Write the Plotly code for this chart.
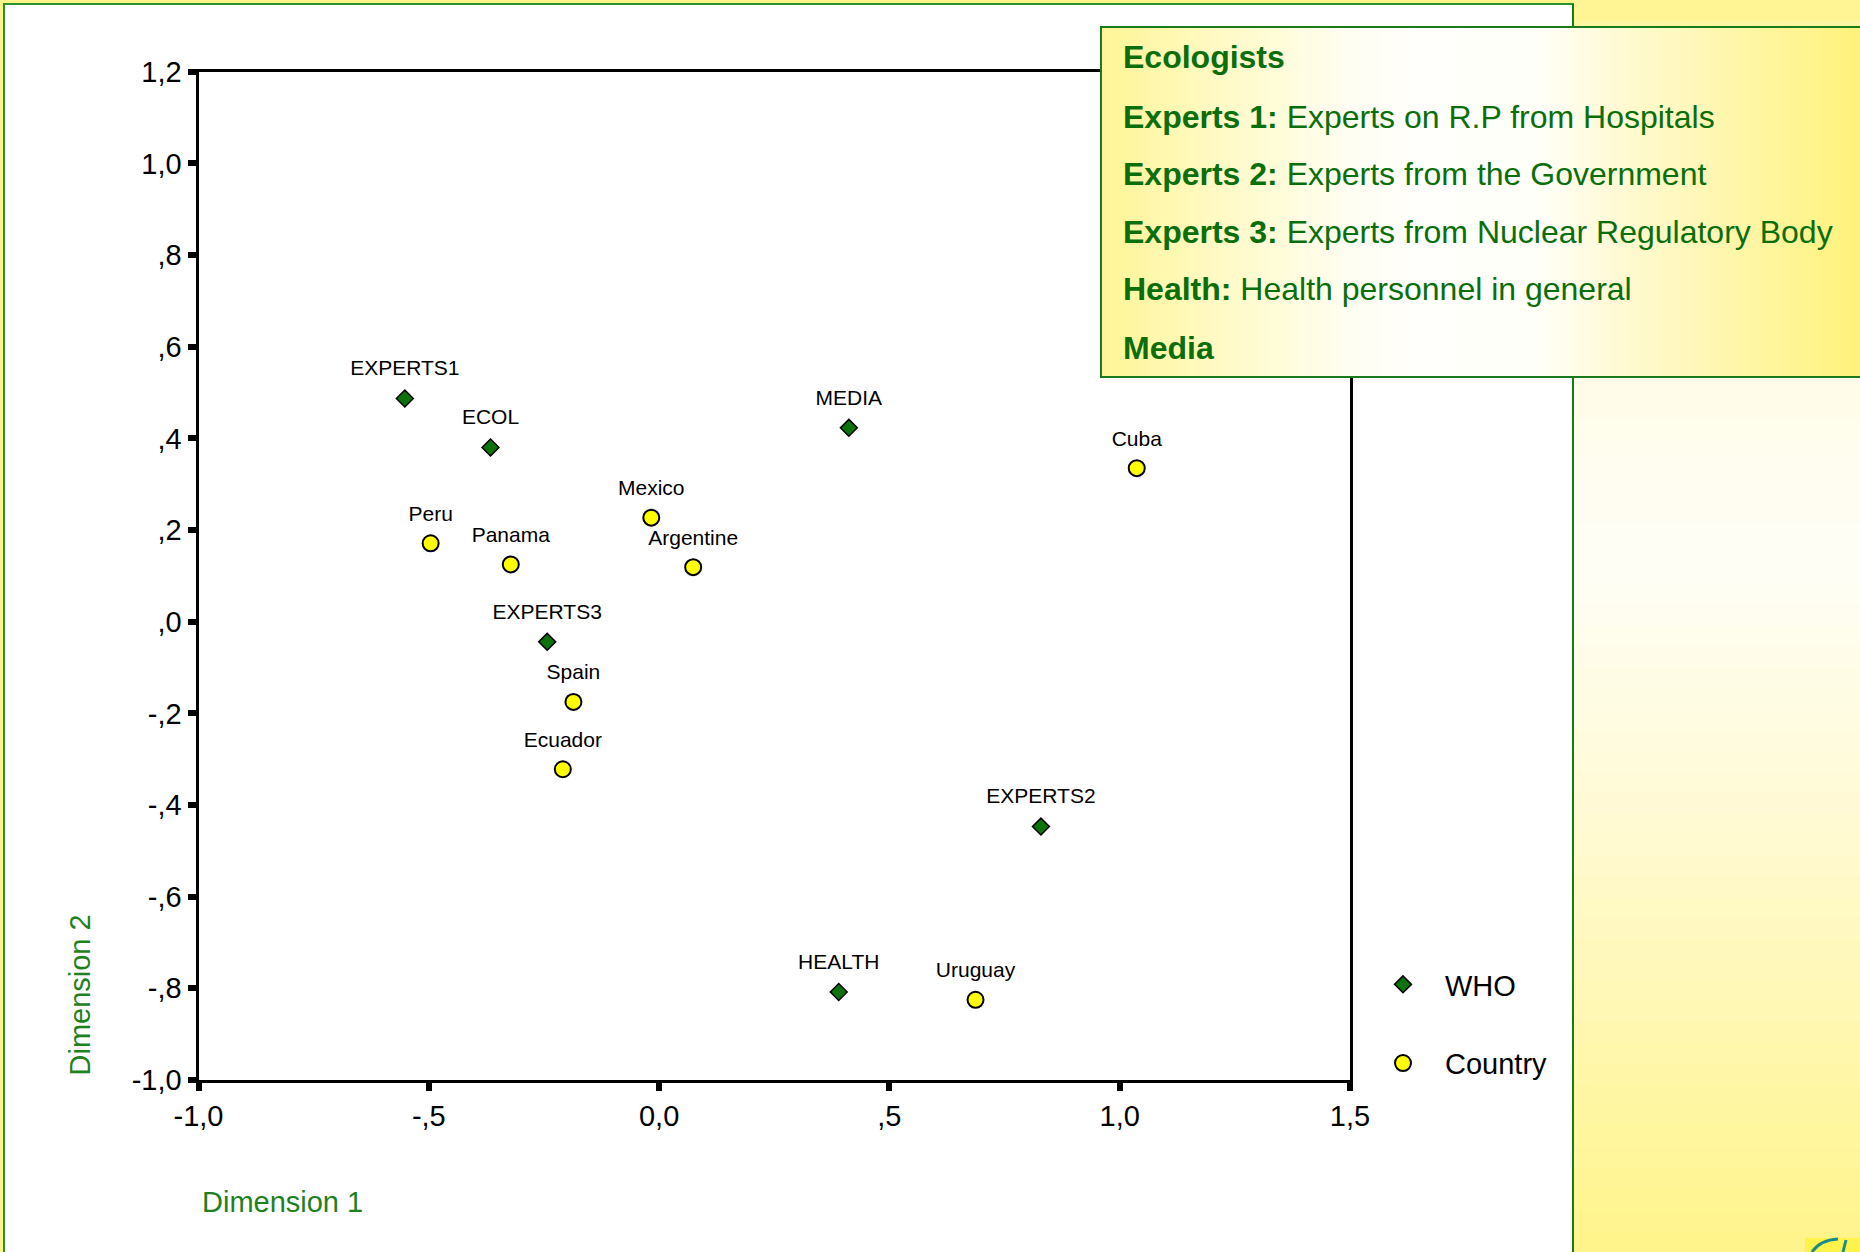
import plotly.graph_objects as go

W, H = 1860, 1252

# ---------------- data ----------------
who_labels = ["EXPERTS1", "ECOL", "MEDIA", "EXPERTS3", "EXPERTS2", "HEALTH"]
who_x = [-0.552, -0.366, 0.412, -0.243, 0.829, 0.390]
who_y = [0.487, 0.380, 0.423, -0.044, -0.447, -0.808]

country_labels = ["Cuba", "Mexico", "Argentine", "Peru", "Panama", "Spain", "Ecuador", "Uruguay"]
country_x = [1.037, -0.017, 0.074, -0.496, -0.322, -0.186, -0.209, 0.687]
country_y = [0.335, 0.227, 0.119, 0.171, 0.125, -0.175, -0.322, -0.825]

x_tickvals = [-1.0, -0.5, 0.0, 0.5, 1.0, 1.5]
x_ticktext = ["-1,0", "-,5", "0,0", ",5", "1,0", "1,5"]
y_tickvals = [1.2, 1.0, 0.8, 0.6, 0.4, 0.2, 0.0, -0.2, -0.4, -0.6, -0.8, -1.0]
y_ticktext = ["1,2", "1,0", ",8", ",6", ",4", ",2", ",0", "-,2", "-,4", "-,6", "-,8", "-1,0"]

box_terms = ["Ecologists", "Experts 1:", "Experts 2:", "Experts 3:", "Health:", "Media"]
box_defs = ["", "Experts on R.P from Hospitals", "Experts from the Government",
            "Experts from Nuclear Regulatory Body", "Health personnel in general", ""]

FONT = "Liberation Sans, Arial, Helvetica, sans-serif"
GREEN_TXT = "#0a6e0a"
AXIS_GREEN = "#1f801f"
YELLOW = (255, 244, 140)


def px(X):
    return X / W


def py(Y):
    return 1 - Y / H


def lerp_color(stops, t):
    for i in range(len(stops) - 1):
        t0, c0 = stops[i]
        t1, c1 = stops[i + 1]
        if t <= t1:
            f = (t - t0) / (t1 - t0) if t1 > t0 else 0
            return tuple(round(c0[k] + (c1[k] - c0[k]) * f) for k in range(3))
    return stops[-1][1]


def gradient(x0, y0, x1, y1, stops, n, direction, layer):
    out = []
    for i in range(n):
        t = (i + 0.5) / n
        c = lerp_color(stops, t)
        col = "rgb(%d,%d,%d)" % c
        if direction == "h":
            a = x0 + (x1 - x0) * i / n
            b = min(x0 + (x1 - x0) * (i + 1) / n + 1.5, x1)
            xa, xb, ya, yb = a, b, y0, y1
        else:
            a = y0 + (y1 - y0) * i / n
            b = min(y0 + (y1 - y0) * (i + 1) / n + 1.5, y1)
            xa, xb, ya, yb = x0, x1, a, b
        out.append(dict(type="rect", xref="paper", yref="paper",
                        x0=px(xa), x1=px(xb), y0=py(ya), y1=py(yb),
                        fillcolor=col, line=dict(width=0), layer=layer))
    return out


shapes = []
# white panel
shapes.append(dict(type="rect", xref="paper", yref="paper",
                   x0=px(4), x1=px(1573), y0=py(4), y1=py(H + 5),
                   fillcolor="white", line=dict(color="#2a932a", width=2), layer="below"))
# right strip gradient
shapes += gradient(1574, 0, W, H,
                   [(0.0, YELLOW), (0.02, (255, 246, 160)), (0.30, (255, 252, 232)),
                    (0.45, (255, 254, 246)), (0.65, (255, 250, 212)), (1.0, (255, 244, 138))],
                   60, "v", "below")
shapes.append(dict(type="line", xref="paper", yref="paper",
                   x0=px(1573), x1=px(1573), y0=py(4), y1=py(H + 5),
                   line=dict(color="#137f13", width=2), layer="below"))
# logo fragment bottom-right
shapes.append(dict(type="rect", xref="paper", yref="paper",
                   x0=px(1805), x1=px(W + 2), y0=py(1238), y1=py(H + 2),
                   fillcolor="#fff24a", line=dict(width=0), layer="below"))
shapes.append(dict(type="path", xref="paper", yref="paper",
                   path="M %f %f Q %f %f %f %f" % (px(1812), py(1252), px(1820), py(1240), px(1838), py(1239)),
                   line=dict(color="#1a8c8c", width=3), layer="below"))
shapes.append(dict(type="line", xref="paper", yref="paper",
                   x0=px(1846), x1=px(1843), y0=py(1240), y1=py(1252),
                   line=dict(color="#1a8c8c", width=3), layer="below"))

# legend box (definitions)
shapes += gradient(1100, 27, W, 377,
                   [(0.0, (255, 245, 150)), (0.17, (255, 250, 200)), (0.32, (255, 254, 240)),
                    (0.42, (255, 255, 252)), (0.58, (255, 255, 248)), (0.68, (255, 250, 212)),
                    (0.80, (255, 247, 180)), (1.0, (255, 242, 122))],
                   76, "h", "above")
shapes.append(dict(type="rect", xref="paper", yref="paper",
                   x0=px(1101), x1=px(W + 3), y0=py(27), y1=py(377),
                   fillcolor="rgba(0,0,0,0)", line=dict(color="#1b7a1b", width=2), layer="above"))

annotations = []
line_y = [57, 117, 174, 232, 289, 348]
for term, d, yy in zip(box_terms, box_defs, line_y):
    txt = "<b>%s</b>" % term + ((" " + d) if d else "")
    annotations.append(dict(xref="paper", yref="paper", x=px(1121), y=py(yy),
                            xanchor="left", yanchor="middle", showarrow=False, text=txt,
                            font=dict(family=FONT, size=32, color=GREEN_TXT)))

# axis titles
annotations.append(dict(xref="paper", yref="paper", x=px(200), y=py(1202),
                        xanchor="left", yanchor="middle", showarrow=False, text="Dimension 1",
                        font=dict(family=FONT, size=29, color=AXIS_GREEN)))
annotations.append(dict(xref="paper", yref="paper", x=px(79), y=py(1078),
                        xanchor="center", yanchor="bottom", showarrow=False, text="Dimension 2",
                        textangle=-90, font=dict(family=FONT, size=29, color=AXIS_GREEN)))

fig = go.Figure()
# markers (with legend)
fig.add_trace(go.Scatter(
    x=who_x, y=who_y, mode="markers", name="WHO", legendgroup="who",
    marker=dict(symbol="diamond", size=13, color="#0c730c", line=dict(color="black", width=1.5)),
    cliponaxis=False, hoverinfo="skip"))
fig.add_trace(go.Scatter(
    x=country_x, y=country_y, mode="markers", name="Country", legendgroup="country",
    marker=dict(symbol="circle", size=16, color="#ffff00", line=dict(color="black", width=2)),
    cliponaxis=False, hoverinfo="skip"))
# point labels (invisible larger markers give the label offset)
fig.add_trace(go.Scatter(
    x=who_x, y=who_y, mode="markers+text", text=who_labels, showlegend=False,
    textposition="top center", textfont=dict(family=FONT, size=21, color="black"),
    marker=dict(size=27, opacity=0), cliponaxis=False, hoverinfo="skip"))
fig.add_trace(go.Scatter(
    x=country_x, y=country_y, mode="markers+text", text=country_labels, showlegend=False,
    textposition="top center", textfont=dict(family=FONT, size=21, color="black"),
    marker=dict(size=26, opacity=0), cliponaxis=False, hoverinfo="skip"))

axis_common = dict(showline=True, mirror=True, linecolor="black", linewidth=3,
                   showgrid=False, zeroline=False, ticks="outside", ticklen=8,
                   tickwidth=6, tickcolor="black", automargin=False,
                   tickfont=dict(family=FONT, size=29, color="black"))

fig.update_layout(
    width=W, height=H,
    margin=dict(l=0, r=0, t=0, b=0),
    paper_bgcolor="rgb(255,244,140)",
    plot_bgcolor="rgba(0,0,0,0)",
    shapes=shapes,
    annotations=annotations,
    showlegend=True,
    legend=dict(x=px(1361), y=py(959), xanchor="left", yanchor="top",
                bgcolor="rgba(0,0,0,0)", borderwidth=0, tracegroupgap=38,
                itemwidth=74,
                font=dict(family=FONT, size=29, color="black"), itemclick=False,
                itemdoubleclick=False),
    xaxis=dict(range=[-1.0, 1.5], domain=[px(198.5), px(1350)],
               tickvals=x_tickvals, ticktext=x_ticktext, **axis_common),
    yaxis=dict(range=[-1.0, 1.2], domain=[py(1080), py(71.7)],
               tickvals=y_tickvals, ticktext=y_ticktext, **axis_common),
)

fig.write_html("out.html", config={"displayModeBar": False},
               post_script="document.body.style.margin='0';document.body.style.overflow='hidden';")
